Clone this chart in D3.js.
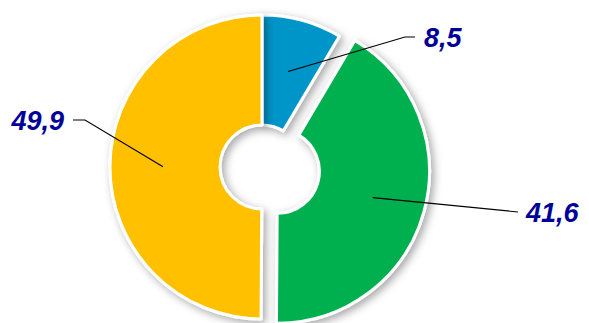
<!DOCTYPE html>
<html>
<head>
<meta charset="utf-8">
<script src="https://cdn.jsdelivr.net/npm/d3@7"></script>
<style>
  body { margin: 0; background: #fff; }
  svg { display: block; }
</style>
</head>
<body>
<svg id="chart" width="589" height="323"></svg>
<script>
// slices, clockwise from 12 o'clock
var categories = ['a', 'b', 'c'],
    values = [8.5, 41.6, 49.9],
    labels = ['8,5', '41,6', '49,9'],
    colors = ['#0095C9', '#00B050', '#FFC000'],
    exploded = [false, true, false];

var width = 589, height = 323,
    cx = 262, cy = 167,
    outerR = 152, innerR = 42,
    explode = 16;

var svg = d3.select('#chart')

var defs = svg.append('defs')
var filter = defs.append('filter')
    .attr('id', 'shadow')
    .attr('x', '-20%').attr('y', '-20%')
    .attr('width', '140%').attr('height', '140%')
filter.append('feDropShadow')
    .attr('dx', 3).attr('dy', 3)
    .attr('stdDeviation', 4)
    .attr('flood-color', '#000')
    .attr('flood-opacity', 0.35)

var pie = d3.pie().sort(null).value(function (d) { return d.value })
var arc = d3.arc().innerRadius(innerR).outerRadius(outerR)

var data = pie(categories.map(function (c, i) {
    return {name: c, value: values[i], label: labels[i], color: colors[i], exploded: exploded[i]}
}))

function offset(d) {
    if (!d.data.exploded) return [0, 0]
    var a = (d.startAngle + d.endAngle) / 2
    return [Math.sin(a) * explode, -Math.cos(a) * explode]
}

var g = svg.append('g')
    .attr('transform', 'translate(' + cx + ',' + cy + ')')

g.selectAll('path.slice')
    .data(data)
    .enter()
    .append('path')
    .attr('class', 'slice')
    .attr('transform', function (d) {
        var o = offset(d)
        return 'translate(' + o[0] + ',' + o[1] + ')'
    })
    .attr('d', arc)
    .attr('fill', function (d) { return d.data.color })
    .attr('stroke', '#fff')
    .attr('stroke-width', 3)
    .attr('stroke-linejoin', 'round')
    .attr('filter', 'url(#shadow)')

// leader lines + labels, relative to the pie centre
var labelPos = {
    '8,5':  {elbow: [143, -130], end: [153, -130], text: [162, -127], anchor: 'start'},
    '41,6': {elbow: [256, 45], end: [256, 45], text: [264, 48], anchor: 'start'},
    '49,9': {elbow: [-177, -47], end: [-189, -47], text: [-198, -44], anchor: 'end'}
}

data.forEach(function (d) {
    var p = labelPos[d.data.label]
    var a = (d.startAngle + d.endAngle) / 2
    var o = offset(d)
    var r = (innerR + outerR) / 2 + 2
    var sx = Math.sin(a) * r + o[0],
        sy = -Math.cos(a) * r + o[1]
    var line = d3.line()
    g.append('path')
        .attr('d', line([[sx, sy], p.elbow, p.end]))
        .attr('fill', 'none')
        .attr('stroke', '#000')
        .attr('stroke-width', 1.2)
    g.append('text')
        .attr('x', p.text[0])
        .attr('y', p.text[1])
        .attr('dominant-baseline', 'middle')
        .attr('text-anchor', p.anchor)
        .attr('font-family', 'Liberation Sans, Arial, sans-serif')
        .attr('font-size', 27)
        .attr('font-weight', 'bold')
        .attr('font-style', 'italic')
        .attr('fill', '#000099')
        .text(d.data.label)
})
</script>
</body>
</html>
